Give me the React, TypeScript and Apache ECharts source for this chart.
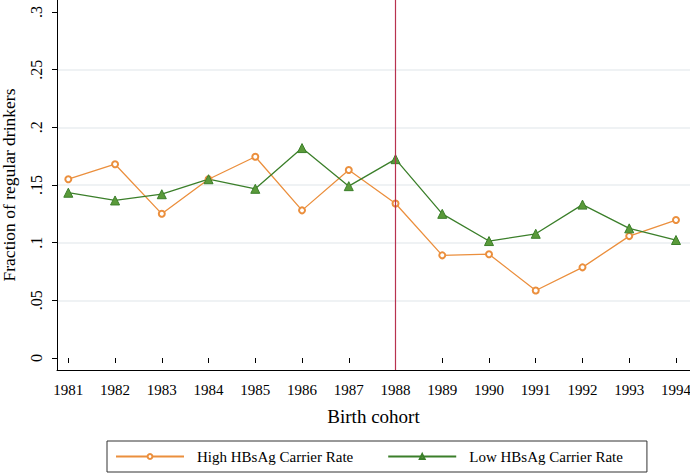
import React, { useEffect, useRef } from "react";
import * as echarts from "echarts";

const years = [1981, 1982, 1983, 1984, 1985, 1986, 1987, 1988, 1989, 1990, 1991, 1992, 1993, 1994];
const highCarrier = [0.155, 0.168, 0.125, 0.155, 0.1745, 0.128, 0.163, 0.134, 0.089, 0.09, 0.0585, 0.0786, 0.1057, 0.1196];
const lowCarrier = [0.1433, 0.1366, 0.142, 0.155, 0.1467, 0.182, 0.149, 0.1724, 0.125, 0.1014, 0.1077, 0.133, 0.1124, 0.1023];
const cutoffYear = 1988;
const yTicks = [0, 0.05, 0.1, 0.15, 0.2, 0.25, 0.3];
const yTickLabels = ["0", ".05", ".1", ".15", ".2", ".25", ".3"];

const FONT = "Liberation Serif";
const ORANGE = "#eb8f3d";
const GREEN = "#3b7f2a";
const RED = "#b8324f";

export default function App() {
  const ref = useRef<HTMLDivElement>(null);
  useEffect(() => {
    if (!ref.current) return;
    const chart = echarts.init(ref.current, undefined, { renderer: "svg" });
    const xMin = 1980.758;
    const xMax = 1994.3;
    chart.setOption({
      animation: false,
      backgroundColor: "#ffffff",
      textStyle: { fontFamily: FONT },
      grid: [
        { left: 57, right: 0, top: 0, bottom: 104, containLabel: false, outerBoundsMode: "none" },
        { left: 57, right: 0, top: 12, bottom: 116, containLabel: false, outerBoundsMode: "none" },
      ],
      xAxis: [
        {
          gridIndex: 0,
          type: "value",
          min: xMin,
          max: xMax,
          axisLine: { show: true, lineStyle: { color: "#000", width: 1 } },
          axisTick: { show: false },
          axisLabel: { show: false },
          splitLine: { show: false },
        },
        {
          gridIndex: 1,
          type: "value",
          min: xMin,
          max: xMax,
          offset: 12,
          axisLine: { show: false },
          axisTick: {
            show: true,
            length: 5,
            customValues: years,
            lineStyle: { color: "#000" },
          },
          axisLabel: {
            show: true,
            customValues: years,
            formatter: (v: number) => String(Math.round(v)),
            fontFamily: FONT,
            fontSize: 15,
            color: "#000",
            margin: 12,
          },
          splitLine: { show: false },
          name: "Birth cohort",
          nameLocation: "middle",
          nameGap: 37,
          nameTextStyle: { fontFamily: FONT, fontSize: 19, color: "#000" },
        },
      ],
      yAxis: [
        {
          gridIndex: 0,
          type: "value",
          min: 0,
          max: 1,
          axisLine: { show: true, lineStyle: { color: "#000", width: 1 } },
          axisTick: { show: false },
          axisLabel: { show: false },
          splitLine: { show: false },
        },
        {
          gridIndex: 1,
          type: "value",
          min: 0,
          max: 0.3,
          interval: 0.05,
          axisLine: { show: false },
          axisTick: { show: true, length: 5, lineStyle: { color: "#000" } },
          axisLabel: {
            show: true,
            rotate: 90,
            fontFamily: FONT,
            fontSize: 16,
            color: "#000",
            margin: 13,
            formatter: (v: number) => {
              const i = yTicks.findIndex((t) => Math.abs(t - v) < 1e-9);
              return i >= 0 ? yTickLabels[i] : "";
            },
          },
          splitLine: {
            show: true,
            lineStyle: {
              color: ["transparent", "#eaeef1", "#eaeef1", "#eaeef1", "#eaeef1", "#eaeef1", "transparent"],
              width: 1.5,
            },
          },
          name: "Fraction of regular drinkers",
          nameLocation: "middle",
          nameGap: 39,
          nameTextStyle: { fontFamily: FONT, fontSize: 17.5, color: "#000" },
        },
      ],
      legend: {
        bottom: 2,
        left: 107,
        data: ["High HBsAg Carrier Rate", "Low HBsAg Carrier Rate"],
        itemWidth: 68,
        itemHeight: 6,
        itemGap: 34,
        borderColor: "#333",
        borderWidth: 1,
        padding: [8, 24, 8, 8],
        textStyle: { fontFamily: FONT, fontSize: 15, color: "#000", padding: [0, 0, 0, 8] },
      },
      series: [
        {
          name: "cutoff",
          type: "line",
          xAxisIndex: 0,
          yAxisIndex: 0,
          data: [],
          color: RED,
          markLine: {
            silent: true,
            symbol: "none",
            label: { show: false },
            itemStyle: { color: RED },
            lineStyle: { color: RED, width: 1.2, type: "solid", opacity: 1 },
            data: [{ xAxis: cutoffYear, lineStyle: { color: RED } }],
          },
        },
        {
          name: "High HBsAg Carrier Rate",
          type: "line",
          xAxisIndex: 1,
          yAxisIndex: 1,
          data: years.map((y, i) => [y, highCarrier[i]]),
          symbol: "emptyCircle",
          symbolSize: 6,
          color: ORANGE,
          lineStyle: { color: ORANGE, width: 1.3 },
          itemStyle: { color: ORANGE, borderColor: ORANGE, borderWidth: 1.8 },
        },
        {
          name: "Low HBsAg Carrier Rate",
          type: "line",
          xAxisIndex: 1,
          yAxisIndex: 1,
          data: years.map((y, i) => [y, lowCarrier[i]]),
          symbol: "triangle",
          symbolSize: 9,
          color: GREEN,
          lineStyle: { color: GREEN, width: 1.3 },
          itemStyle: { color: "#5a9a3a", borderColor: GREEN, borderWidth: 1 },
        },
      ],
    });
    return () => chart.dispose();
  }, []);
  return <div ref={ref} style={{ width: 690, height: 474, position: "absolute", left: 0, top: 0 }} />;
}
